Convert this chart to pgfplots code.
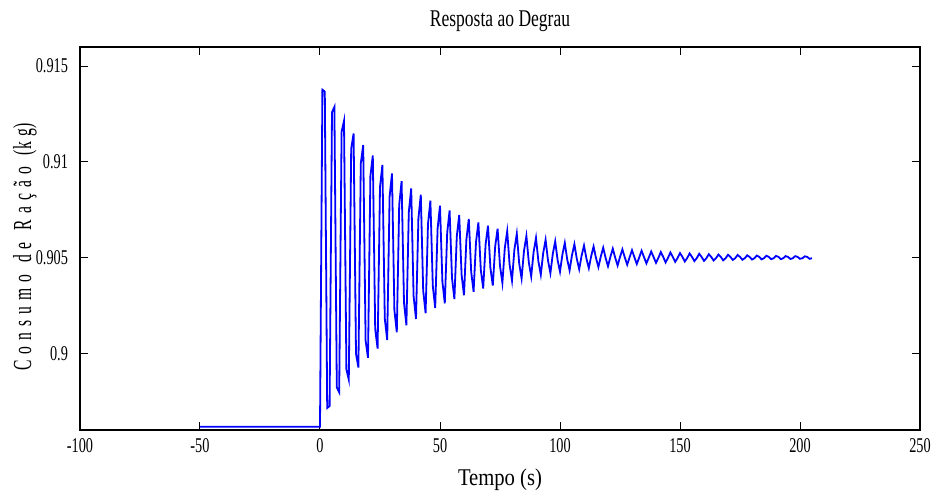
\documentclass[border=0pt]{standalone}
\usepackage{fontspec}
\setmainfont{Liberation Serif}
\newfontfamily\tickfont{Liberation Serif}[FakeStretch=0.68]
\newfontfamily\titlefont{Liberation Serif}[FakeStretch=0.73]
\newfontfamily\xlabfont{Liberation Serif}[FakeStretch=0.86]
\newfontfamily\ylabfont{Liberation Serif}[FakeStretch=0.6]
\newcommand\lsp{\hspace{3pt}}
\newcommand\wsp{\hspace{6pt}}
\usepackage{pgfplots}
\pgfplotsset{compat=1.18}
\begin{document}
\begin{tikzpicture}
\useasboundingbox (-40pt,-32pt) rectangle (429pt,215pt);
\begin{axis}[
  scale only axis,
  width=420pt, height=191.5pt,
  xmin=-100, xmax=250, ymin=0.896, ymax=0.916,
  xtick={-100,-50,0,50,100,150,200,250},
  xticklabels={-100,-50,0,50,100,150,200,250},
  ytick={0.9,0.905,0.91,0.915},
  yticklabels={0.9,0.905,0.91,0.915},
  tick align=inside,
  major tick length=4pt,
  tick style={black, line width=0.5pt},
  axis line style={black, line width=0.6pt},
  xticklabel style={font=\fontsize{10.5}{12}\tickfont, anchor=base, yshift=-11pt},
  yticklabel style={font=\fontsize{10.5}{12}\tickfont, xshift=-2.5pt},
  title={Resposta ao Degrau},
  title style={font=\fontsize{12}{14}\titlefont, at={(axis description cs:0.5,1.0209)}, anchor=base},
  xlabel={Tempo (s)},
  xlabel style={font=\fontsize{12}{14}\xlabfont, at={(axis description cs:0.5,-0.1436)}, anchor=base},
  ylabel={C\lsp o\lsp n\lsp s\lsp u\lsp m\lsp o\wsp d\lsp e\wsp R\lsp a\lsp ç\lsp ã\lsp o\wsp (k\lsp g)},
  ylabel style={font=\fontsize{13}{15}\ylabfont, at={(axis description cs:-0.0583,0.478)}, anchor=base},
]
\addplot[color={rgb,255:red,0;green,0;blue,255}, line width=0.9pt, mark=none] table {
x y
-50 0.89617
0 0.89617
1 0.91377
2 0.91367
3 0.89715
4 0.89725
5 0.91259
6 0.91287
7 0.89823
8 0.89797
9 0.91157
10 0.91214
11 0.89917
12 0.89863
13 0.91069
14 0.91148
15 0.89998
16 0.89926
17 0.90992
18 0.91088
19 0.90068
20 0.89977
21 0.90926
22 0.91034
23 0.90128
24 0.90025
25 0.90868
26 0.90984
27 0.90181
28 0.90070
29 0.90818
30 0.90940
31 0.90226
32 0.90110
33 0.90775
34 0.90899
35 0.90265
36 0.90147
37 0.90737
38 0.90862
39 0.90299
40 0.90180
41 0.90704
42 0.90829
43 0.90328
44 0.90210
45 0.90676
46 0.90798
47 0.90353
48 0.90237
49 0.90651
50 0.90771
51 0.90375
52 0.90261
53 0.90630
54 0.90746
55 0.90394
56 0.90284
57 0.90611
58 0.90723
59 0.90410
60 0.90304
61 0.90595
62 0.90702
63 0.90425
64 0.90322
65 0.90581
66 0.90684
67 0.90437
68 0.90339
69 0.90569
70 0.90667
71 0.90447
72 0.90354
73 0.90559
74 0.90651
75 0.90456
76 0.90368
77 0.90550
78 0.90638
79 0.90464
80 0.90380
81 0.90542
82 0.90625
83 0.90470
84 0.90391
85 0.90535
86 0.90613
87 0.90476
88 0.90402
89 0.90529
90 0.90603
91 0.90481
92 0.90411
93 0.90524
94 0.90593
95 0.90485
96 0.90419
97 0.90520
98 0.90585
99 0.90488
100 0.90427
101 0.90516
102 0.90577
103 0.90491
104 0.90434
105 0.90513
106 0.90570
107 0.90494
108 0.90440
109 0.90510
110 0.90563
111 0.90496
112 0.90445
113 0.90508
114 0.90558
115 0.90498
116 0.90451
117 0.90506
118 0.90552
119 0.90499
120 0.90455
121 0.90504
122 0.90547
123 0.90500
124 0.90459
125 0.90503
126 0.90543
127 0.90501
128 0.90463
129 0.90502
130 0.90539
131 0.90502
132 0.90467
133 0.90501
134 0.90536
135 0.90503
136 0.90470
137 0.90500
138 0.90532
139 0.90503
140 0.90473
141 0.90499
142 0.90529
143 0.90504
144 0.90475
145 0.90499
146 0.90527
147 0.90504
148 0.90478
149 0.90498
150 0.90524
151 0.90504
152 0.90480
153 0.90498
154 0.90522
155 0.90504
156 0.90482
157 0.90498
158 0.90520
159 0.90504
160 0.90483
161 0.90497
162 0.90518
163 0.90504
164 0.90485
165 0.90497
166 0.90516
167 0.90504
168 0.90486
169 0.90497
170 0.90515
171 0.90504
172 0.90488
173 0.90497
174 0.90514
175 0.90504
176 0.90489
177 0.90497
178 0.90512
179 0.90504
180 0.90490
181 0.90497
182 0.90511
183 0.90504
184 0.90491
185 0.90497
186 0.90510
187 0.90504
188 0.90492
189 0.90497
190 0.90509
191 0.90504
192 0.90492
193 0.90497
194 0.90508
195 0.90504
196 0.90493
197 0.90497
198 0.90508
199 0.90504
200 0.90494
201 0.90497
202 0.90507
203 0.90504
204 0.90494
205 0.90497
};
\end{axis}
\end{tikzpicture}
\end{document}
